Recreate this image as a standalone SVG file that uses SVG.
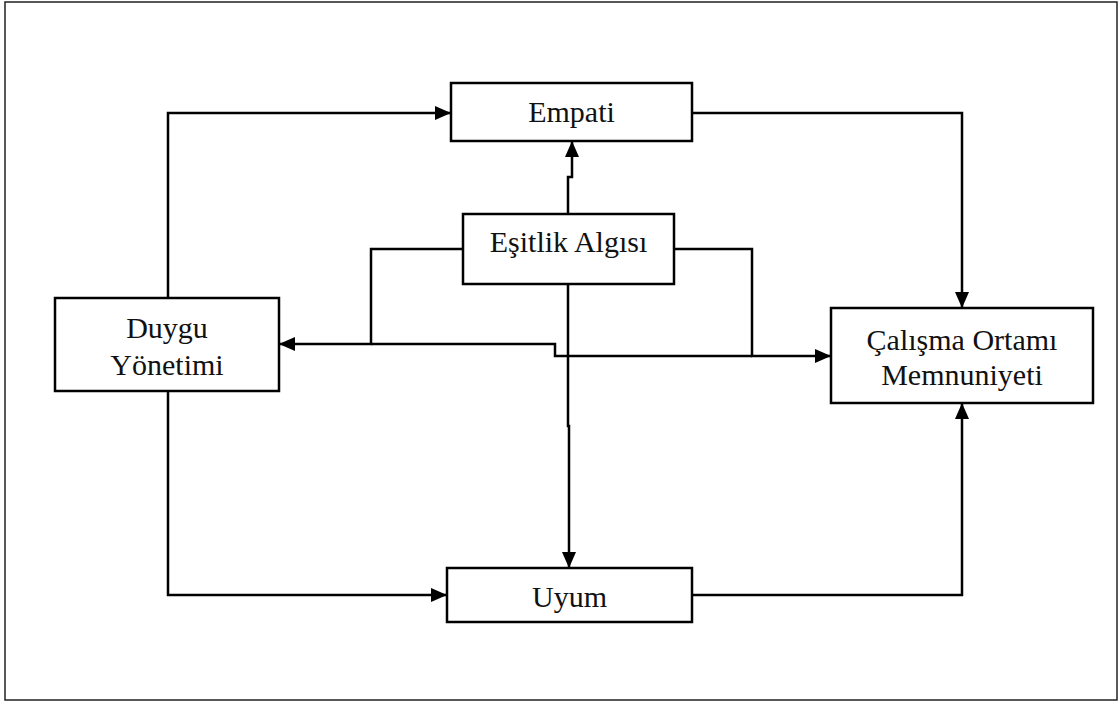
<svg xmlns="http://www.w3.org/2000/svg" width="1120" height="702" viewBox="0 0 1120 702">
<style>
.box{fill:#fff;stroke:#000;stroke-width:2.5}
.frame{fill:#fff;stroke:#222;stroke-width:1.5}
.lbl{font-family:"Liberation Serif","Times New Roman",serif;font-size:30px;fill:#111;text-anchor:middle}
.c{fill:none;stroke:#000;stroke-width:2.5}
.a{marker-end:url(#arr)}
</style>
<defs>
<marker id="arr" viewBox="0 0 16 14" refX="16" refY="7" markerWidth="16" markerHeight="14" orient="auto" markerUnits="userSpaceOnUse">
<path d="M0,0 L16,7 L0,14 Z" fill="#000"/>
</marker>
</defs>
<rect class="frame" x="5" y="2" width="1112" height="698"/>
<g id="connectors">
<path class="c a" d="M168,298 V113 H451"/>
<path class="c a" d="M692,113 H962 V308"/>
<path class="c a" d="M168,391 V595 H447"/>
<path class="c a" d="M692,595 H962 V403"/>
<path class="c a" d="M568,214 V177 H572 V141"/>
<path class="c a" d="M568,284 V426 H569 V568"/>
<path class="c a" d="M463,249 H371 V344 H279"/>
<path class="c a" d="M674,249 H752 V356 H831"/>
<path class="c" d="M371,344 H555 V356 H752"/>
</g>
<g id="empati">
<rect class="box" x="451" y="83" width="241" height="58"/>
<text class="lbl" x="571.5" y="122">Empati</text>
</g>
<g id="esitlik">
<rect class="box" x="463" y="214" width="211" height="70"/>
<text class="lbl" x="568.5" y="252">Eşitlik Algısı</text>
</g>
<g id="duygu">
<rect class="box" x="55" y="298" width="224" height="93"/>
<text class="lbl" x="167" y="338">Duygu</text>
<text class="lbl" x="167" y="375">Yönetimi</text>
</g>
<g id="calisma">
<rect class="box" x="831" y="308" width="262" height="95"/>
<text class="lbl" x="962" y="350">Çalışma Ortamı</text>
<text class="lbl" x="962" y="385">Memnuniyeti</text>
</g>
<g id="uyum">
<rect class="box" x="447" y="568" width="245" height="54"/>
<text class="lbl" x="569.5" y="607">Uyum</text>
</g>
</svg>
